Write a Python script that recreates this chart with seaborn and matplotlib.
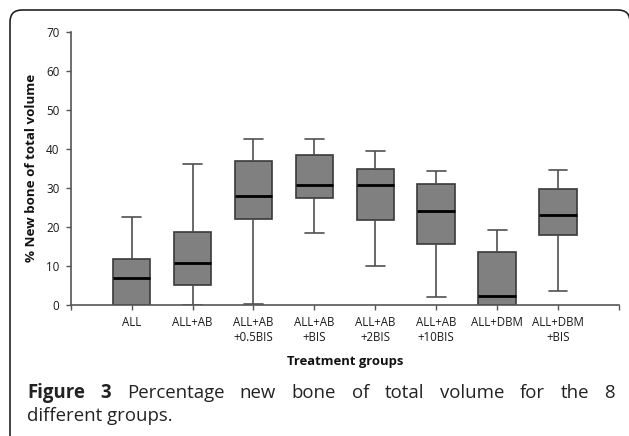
import numpy as np
import pandas as pd
import matplotlib
matplotlib.use("Agg")
import matplotlib.pyplot as plt
from matplotlib.patches import FancyBboxPatch
from matplotlib.transforms import IdentityTransform
import seaborn as sns

# Five-number summaries (% new bone of total volume)
groups = ["ALL", "ALL+AB", "ALL+AB\n+0.5BIS", "ALL+AB\n+BIS",
          "ALL+AB\n+2BIS", "ALL+AB\n+10BIS", "ALL+DBM", "ALL+DBM\n+BIS"]
mins = [0.0, 0.0, 0.3, 18.4, 10.1, 2.0, 0.0, 3.6]
q1s = [0.0, 5.1, 22.0, 27.3, 21.8, 15.6, 0.0, 17.9]
medians = [7.0, 10.7, 27.8, 30.8, 30.8, 24.1, 2.4, 23.1]
q3s = [11.8, 18.6, 36.8, 38.3, 34.9, 30.9, 13.5, 29.8]
maxs = [22.6, 36.2, 42.4, 42.4, 39.5, 34.2, 19.1, 34.5]
yticks = [0, 10, 20, 30, 40, 50, 60, 70]

# long table: five values per group reproduce the quartiles exactly
rows = []
for g, a, b, c, d, e in zip(groups, mins, q1s, medians, q3s, maxs):
    for v in (a, b, c, d, e):
        rows.append({"group": g, "value": v})
df = pd.DataFrame(rows)

sns.set_style("ticks")
plt.rcParams["font.family"] = ["Open Sans", "DejaVu Sans"]

W, H = 629, 436
fig = plt.figure(figsize=(W / 100, H / 100), dpi=100)
ax = fig.add_axes([70.7 / W, 1 - 305 / H, (619 - 70.7) / W, (305 - 31.7) / H])

edge = "#3a3a3a"
sns.boxplot(
    data=df, x="group", y="value", order=groups, ax=ax,
    color="#808080", saturation=1, width=0.615, whis=(0, 100),
    linecolor=edge, linewidth=1.2, showfliers=False,
    medianprops=dict(color="black", linewidth=2.0),
    whiskerprops=dict(color="#505050", linewidth=1.2),
    capprops=dict(color="#505050", linewidth=1.2),
)

ax.set_xlim(-1, len(groups))
ax.set_ylim(0, 70)
ax.set_yticks(yticks)
ax.set_xticks(range(-1, len(groups) + 1))
ax.set_xticklabels([""] + groups + [""])
ax.tick_params(axis="both", direction="out", length=3.6, width=1.0,
               color="#555555", labelcolor="#1a1a1a")
ax.tick_params(axis="y", labelsize=8.4, pad=4.5)
ax.tick_params(axis="x", labelsize=8.3, pad=4)
for s in ["top", "right"]:
    ax.spines[s].set_visible(False)
for s in ["left", "bottom"]:
    ax.spines[s].set_color("#555555")
    ax.spines[s].set_linewidth(1.2)

ax.set_xlabel("Treatment groups", fontsize=9.4, fontweight="bold",
              color="#111111", labelpad=8)
ax.set_ylabel("% New bone of total volume", fontsize=9.6, fontweight="bold",
              color="#111111", labelpad=6)

# frame around the figure panel
frame = FancyBboxPatch((10, -30), 620, H - 10 + 30,
                       boxstyle="round,pad=0,rounding_size=12",
                       transform=IdentityTransform(), fill=False,
                       edgecolor="#222222", linewidth=1.2)
fig.patches.append(frame)

# caption, first line justified word by word
cap_size = 13.4
line1 = [("Figure", "bold"), ("3", "bold"), ("Percentage", "normal"),
         ("new", "normal"), ("bone", "normal"), ("of", "normal"),
         ("total", "normal"), ("volume", "normal"), ("for", "normal"),
         ("the", "normal"), ("8", "normal")]
x_left, x_right = 27, 615
y1 = 1 - 397.5 / H
y2 = 1 - 421 / H

texts = [fig.text(0, y1, w, fontsize=cap_size, fontweight=wt, color="#222222",
                  va="baseline", ha="left") for w, wt in line1]
fig.canvas.draw()
renderer = fig.canvas.get_renderer()
widths = [t.get_window_extent(renderer).width for t in texts]
gap = (x_right - x_left - sum(widths)) / (len(texts) - 1)
x = x_left
for t, w in zip(texts, widths):
    t.set_x(x / W)
    x += w + gap

fig.text(x_left / W, y2, "different groups.", fontsize=cap_size,
         color="#222222", va="baseline", ha="left")

fig.savefig("out.png", dpi=100)
